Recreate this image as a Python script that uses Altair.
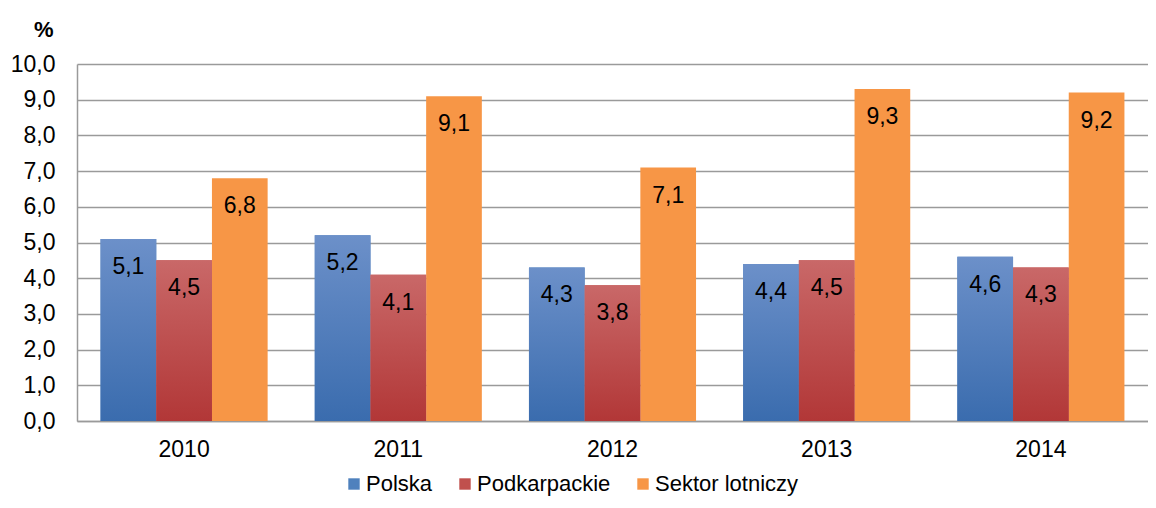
import altair as alt
import pandas as pd

years = ["2010", "2011", "2012", "2013", "2014"]
series = ["Polska", "Podkarpackie", "Sektor lotniczy"]
polska = [5.1, 5.2, 4.3, 4.4, 4.6]
podkarpackie = [4.5, 4.1, 3.8, 4.5, 4.3]
sektor = [6.8, 9.1, 7.1, 9.3, 9.2]
y_ticks = [0, 1, 2, 3, 4, 5, 6, 7, 8, 9, 10]
colors = ["#4F81BD", "#C0504D", "#F79646"]

rows = []
for s, vals in zip(series, [polska, podkarpackie, sektor]):
    for yr, v in zip(years, vals):
        rows.append({"rok": yr, "seria": s, "wartosc": v})
df = pd.DataFrame(rows)

FONT = "Liberation Sans"
GRID = "#9a9a9a"

x = alt.X(
    "rok:N",
    sort=years,
    scale=alt.Scale(paddingInner=0.22, paddingOuter=0.11),
    axis=alt.Axis(
        title=None, labelAngle=0, labelFontSize=23, labelFont=FONT,
        labelColor="#000000", labelPadding=17, ticks=False,
        domainColor=GRID, domainWidth=1.5, grid=False,
    ),
)
xo = alt.XOffset(
    "seria:N", sort=series,
    scale=alt.Scale(domain=series, paddingInner=0, paddingOuter=0),
)
y = alt.Y(
    "wartosc:Q",
    scale=alt.Scale(domain=[0, 10], nice=False),
    axis=alt.Axis(
        values=y_ticks,
        labelExpr="replace(format(datum.value, '.1f'), '.', ',')",
        labelFontSize=23, labelFont=FONT, labelColor="#000000",
        labelPadding=22, ticks=False,
        domainColor=GRID, domainWidth=1.5,
        grid=True, gridColor=GRID, gridWidth=1.4,
        title="%", titleAngle=0, titleAlign="right", titleBaseline="middle",
        titleX=-24, titleY=-35, titleFontSize=22, titleFont=FONT,
        titleFontWeight="bold", titleColor="#000000",
    ),
)

base = alt.Chart(df)

bars = base.mark_bar().encode(
    x=x, xOffset=xo, y=y,
    color=alt.Color(
        "seria:N", sort=series,
        scale=alt.Scale(domain=series, range=colors),
        legend=alt.Legend(
            orient="none", legendX=266, legendY=409, direction="horizontal",
            title=None, symbolType="square", symbolSize=130,
            symbolStrokeWidth=0, labelFontSize=22, labelFont=FONT,
            labelColor="#000000", labelOffset=1, columnPadding=21,
        ),
    ),
)


def grad(top, bottom):
    return alt.Gradient(
        gradient="linear", x1=0, x2=0, y1=0, y2=1,
        stops=[alt.GradientStop(color=top, offset=0),
               alt.GradientStop(color=bottom, offset=1)],
    )


blue = base.transform_filter(alt.datum.seria == "Polska").mark_bar(
    color=grad("#6C90C9", "#3A6CAE")
).encode(x=x, xOffset=xo, y=y)

red = base.transform_filter(alt.datum.seria == "Podkarpackie").mark_bar(
    color=grad("#C96868", "#B23737")
).encode(x=x, xOffset=xo, y=y)

labels = base.transform_calculate(
    lab="replace(format(datum.wartosc, '.1f'), '.', ',')"
).mark_text(
    baseline="alphabetic", dy=35, fontSize=23, font=FONT, color="#000000"
).encode(x=x, xOffset=xo, y=y, text="lab:N")

chart = alt.layer(bars, blue, red, labels).properties(
    width=1071, height=357,
    padding={"left": 69, "top": 56, "right": 0, "bottom": 75},
    autosize=alt.AutoSizeParams(type="none"),
).configure_view(stroke=None)

chart.save("out.html", embed_options={"renderer": "svg", "actions": False})
